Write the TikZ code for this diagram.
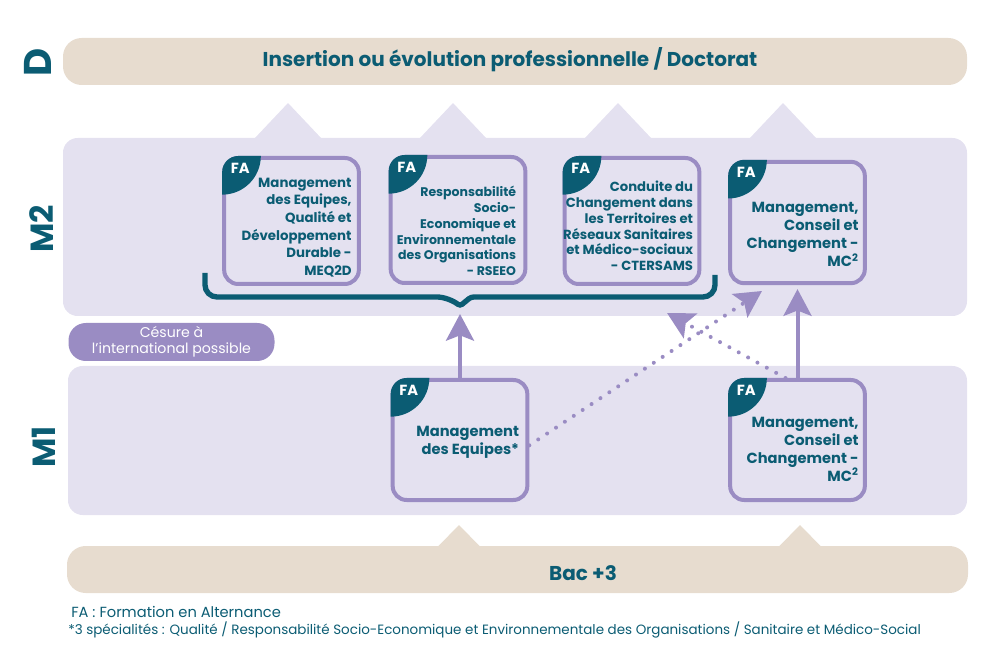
\documentclass[tikz,border=0pt]{standalone}
\usepackage{fontspec}
\setmainfont{Poppins}
\usepackage{tikz}
\usetikzlibrary{arrows.meta,calc,positioning}
\definecolor{UniTeal}{HTML}{0B5C73}
\definecolor{Lilac}{HTML}{9A8CC3}
\definecolor{LilacMist}{HTML}{E4E1F0}
\definecolor{Sand}{HTML}{E7DCCF}

% teal corner tab with "FA"
\newcommand{\fatag}[1]{%
  \begin{scope}
    \clip[rounded corners=12pt] (#1.north west) rectangle (#1.south east);
    \fill[UniTeal] (#1.north west) circle[radius=29pt];
  \end{scope}
  \node[fatext] (#1-fa) at ($(#1.north west)+(18,12.5)$) {FA};}

\begin{document}
\begin{tikzpicture}[x=0.75pt,y=-0.75pt,
    band/.style={fill=Sand,rounded corners=14pt,inner sep=0pt},
    panel/.style={fill=LilacMist,rounded corners=11pt,inner sep=0pt},
    level/.style={text=UniTeal,rotate=90,inner sep=0pt,font=\bfseries\fontsize{24}{24}\selectfont},
    heading/.style={text=UniTeal,inner sep=0pt,font=\bfseries\fontsize{15}{18}\selectfont},
    course/.style={draw=Lilac,line width=3pt,outer sep=1.5pt,rounded corners=10.5pt,
      minimum width=101pt,minimum height=94.5pt,inner sep=0pt},
    ctext/.style={text=UniTeal,align=right,inner sep=0pt,anchor=east,
      font=\bfseries\fontsize{10}{13.2}\selectfont},
    fatext/.style={text=white,inner sep=0pt,font=\bfseries\fontsize{11}{12}\selectfont},
    arr/.style={-{Stealth[length=20pt,width=21pt,inset=4pt]},Lilac,line width=3pt},
    dots/.style={arr,line cap=round,dash pattern=on 0pt off 8pt},
    note/.style={text=UniTeal,inner sep=0pt,anchor=base west,font=\fontsize{10.1}{12}\selectfont}]
  \useasboundingbox (0,0) rectangle (1000,652);

  % levels
  \node[band,minimum width=678pt,minimum height=35.25pt] (dband) at (515,61.5) {};
  \node[heading] (dtitle) at (510,60) {Insertion ou évolution professionnelle / Doctorat};
  \foreach \tx in {288,453,618,783}
    \fill[LilacMist] (\tx-34,139) -- (\tx,103) -- (\tx+34,139) -- cycle;
  \node[panel,minimum width=678pt,minimum height=133.5pt] (m2panel) at (515,227) {};
  \node[panel,minimum width=674.25pt,minimum height=111.75pt] (m1panel) at (517.5,440.5) {};
  \node[band,minimum width=675.75pt,minimum height=35.25pt] (bacband) at (517.5,569.5) {};
  \foreach \tx in {459,800}
    \fill[Sand] (\tx-21.5,547) -- (\tx,525) -- (\tx+21.5,547) -- cycle;
  \node[heading] (bactitle) at (583,573) {Bac +3};

  \node[level,font=\bfseries\fontsize{29}{29}\selectfont] (lvD) at (38,62.5) {D};
  \node[level] (lvM2) at (41.5,229) {M2};
  \node[level] (lvM1) at (44,447) {M1};

  \node[fill=Lilac,rounded corners=13pt,minimum width=154.5pt,minimum height=28.5pt,
    inner sep=0pt,text=white,align=center,font=\fontsize{10.6}{12}\selectfont]
    (cesure) at (171.5,342) {Césure à\\l’international possible};

  % brace under the M2 courses
  \draw[UniTeal,line width=4pt] (205,273) [rounded corners=9pt] -- (205,297) -- (449,297)
    [rounded corners=2pt] -- (460,306) -- (471,297) -- (480,297)
    [rounded corners=9pt] -- (715,297) -- (715,275);
  \coordinate (notch) at (460,314);

  % courses
  \node[course] (meq) at (291.5,221) {};
  \node[course] (rseeo) at (458,220) {};
  \node[course] (ctersams) at (632,221) {};
  \node[course,minimum height=91pt] (mc2) at (797.5,222.5) {};
  \node[course,minimum height=90pt] (mde) at (460,440) {};
  \node[course,minimum height=90pt] (mc1) at (797.5,440) {};
  \foreach \b in {meq,rseeo,ctersams,mc2,mde,mc1}
    \fatag{\b};

  \node[ctext] (meq-t) at ($(meq.east)+(-9,6.5)$)
    {Management\\des Equipes,\\Qualité et\\Développement\\Durable -\\MEQ2D};
  \node[ctext,font=\bfseries\fontsize{9.4}{11.9}\selectfont] (rseeo-t) at ($(rseeo.east)+(-11,11)$)
    {Responsabilité\\Socio-\\Economique et\\Environnementale\\des Organisations\\- RSEEO};
  \node[ctext,font=\bfseries\fontsize{9.9}{11.8}\selectfont] (ctersams-t) at ($(ctersams.east)+(-8,5)$)
    {Conduite du\\Changement dans\\les Territoires et\\Réseaux Sanitaires\\et Médico-sociaux\\- CTERSAMS};
  \node[ctext,font=\bfseries\fontsize{11}{13.5}\selectfont] (mc2-t) at ($(mc2.east)+(-8,12)$)
    {Management,\\Conseil et\\Changement -\\MC\textsuperscript{2}};
  \node[ctext,font=\bfseries\fontsize{11}{13.5}\selectfont] (mde-t) at ($(mde.east)+(-10,2.5)$)
    {Management\\des Equipes*};
  \node[ctext,font=\bfseries\fontsize{11}{13.5}\selectfont] (mc1-t) at ($(mc1.east)+(-8,9)$)
    {Management,\\Conseil et\\Changement -\\MC\textsuperscript{2}};

  % paths between years
  \coordinate (tipmc) at (762,291);
  \coordinate (tipct) at (667,313);
  \draw[arr] (mde) -- (notch);
  \draw[arr,shorten >=3pt] (mc1) -- (mc2);
  \draw[dots] ([yshift=-4pt]mde.east) -- (tipmc);
  \draw[dots] ([xshift=-9pt]mc1.north) -- (tipct);

  \node[note,font=\fontsize{11}{12}\selectfont] (fnfa) at (71,617) {FA : Formation en Alternance};
  \node[note] (fnspec) at (68,634) {*3 spécialités : Qualité / Responsabilité Socio-Economique et Environnementale des Organisations / Sanitaire et Médico-Social};
\end{tikzpicture}
\end{document}
